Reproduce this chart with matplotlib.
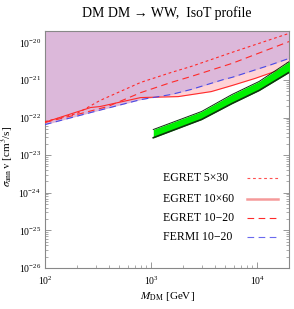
import numpy as np
import matplotlib
matplotlib.use("Agg")
import matplotlib.pyplot as plt

plt.rcParams['font.family'] = ['Liberation Serif', 'DejaVu Serif']
plt.rcParams['mathtext.fontset'] = 'stix'

# EGRET 5x30 (short dashed)
m_5x30 = [100, 200, 330, 800, 1550, 2400, 5800, 21500]
s_5x30 = [7.8e-23, 1.28e-22, 2.84e-22, 8.6e-22, 1.58e-21, 2.29e-21, 5.4e-21, 1.85e-20]

# EGRET 10x60 (solid)
m_10x60 = [100, 270, 330, 800, 1800, 3700, 5800, 9600, 21500]
s_10x60 = [7.5e-23, 1.85e-22, 1.96e-22, 3.4e-22, 3.6e-22, 4.9e-22, 7.1e-22, 1.1e-21, 2.44e-21]

# EGRET 10-20 (dashed)
m_e1020 = [100, 200, 390, 800, 1550, 2400, 5800, 21500]
s_e1020 = [7.4e-23, 1.2e-22, 1.96e-22, 4.6e-22, 8.6e-22, 1.24e-21, 2.75e-21, 1.13e-20]

# FERMI 10-20 (blue dashed)
m_f1020 = [100, 270, 800, 1550, 2400, 4850, 5800, 13000, 21500]
s_f1020 = [6.5e-23, 1.36e-22, 3.0e-22, 4.1e-22, 5.6e-22, 1.03e-21, 1.17e-21, 2.44e-21, 4.0e-21]

# green band
m_band = [1050, 3000, 5800, 10450, 21500]
band_hi = [4.8e-23, 1.45e-22, 4.1e-22, 9.1e-22, 3.5e-21]
band_lo = [2.9e-23, 8.9e-23, 2.36e-22, 5.25e-22, 1.79e-21]

labels = ['EGRET 5\u00d730', 'EGRET 10\u00d760', 'EGRET 10\u221220', 'FERMI 10\u221220']

xmin, xmax = 100, 2e4
ymin, ymax = 1e-26, 2e-20

fig = plt.figure(figsize=(2.94, 3.09), dpi=100)
ax = fig.add_axes([0.153, 0.1327, 0.83, 0.767])
ax.set_xscale('log')
ax.set_yscale('log')
ax.set_xlim(xmin, xmax)
ax.set_ylim(ymin, ymax)

# excluded regions
ax.fill_between(m_10x60, s_10x60, ymax, color='#ffd3d6', lw=0, zorder=1)
ax.fill_between(m_f1020, s_f1020, ymax, color='#dcb8da', lw=0, zorder=2)

red = '#ff2a2a'
blue = '#4a4ae6'
styles = [
    dict(color=red, lw=0.8, dashes=(2.5, 2.5)),
    dict(color=red, lw=0.8),
    dict(color=red, lw=0.8, dashes=(6, 4)),
    dict(color=blue, lw=0.8, dashes=(6, 4)),
]
series = [(m_5x30, s_5x30), (m_10x60, s_10x60), (m_e1020, s_e1020), (m_f1020, s_f1020)]
for (m, s), st in zip(series, styles):
    ax.plot(m, s, zorder=4, **st)

ax.fill_between(m_band, band_lo, band_hi, color='#00f000', lw=0, zorder=5)
ax.plot(m_band, band_hi, color='#103010', lw=0.7, zorder=6)
ax.plot(m_band, band_lo, color='#103010', lw=1.2, zorder=6)

# legend drawn by hand: text left-aligned, sample line on the right
leg_styles = [
    dict(color='#ff5050', lw=0.8, dashes=(2.5, 2.5)),
    dict(color='#f59a9a', lw=1.8),
    dict(color=red, lw=0.8, dashes=(6, 4)),
    dict(color='#6a6aee', lw=0.8, dashes=(6, 4)),
]
leg_y = [0.380, 0.291, 0.211, 0.131]
for lab, st, yy in zip(labels, leg_styles, leg_y):
    ax.text(0.484, yy, lab, transform=ax.transAxes, fontsize=8.5,
            ha='left', va='center', zorder=7)
    ax.plot([0.828, 0.955], [yy, yy], transform=ax.transAxes, zorder=7, **st)

# ticks, Mathematica style
for side in ax.spines.values():
    side.set_color('#888888')
    side.set_linewidth(0.8)
ax.tick_params(which='both', direction='in', top=True, right=True,
               color='#888888', labelsize=7)
ax.tick_params(axis='x', pad=5)
ax.tick_params(axis='y', pad=3)
ax.tick_params(which='major', length=4, width=0.6)
ax.tick_params(which='minor', length=2, width=0.5)
ax.set_xticks([1e2, 1e3, 1e4])
ax.set_yticks([1e-26, 1e-25, 1e-24, 1e-23, 1e-22, 1e-21, 1e-20])

ax.set_xlabel(r'$M_{\mathrm{DM}}$ [GeV]', fontsize=8, labelpad=2)
ax.set_ylabel(r'$\sigma_{\mathrm{ann}}\,\mathrm{v}$ [cm$^3$/s]', fontsize=8)
ax.yaxis.set_label_coords(-0.12, 0.47)
ax.set_title('DM DM \u2192 WW,  IsoT profile', fontsize=10, pad=10)

fig.savefig('out.png', dpi=100)
